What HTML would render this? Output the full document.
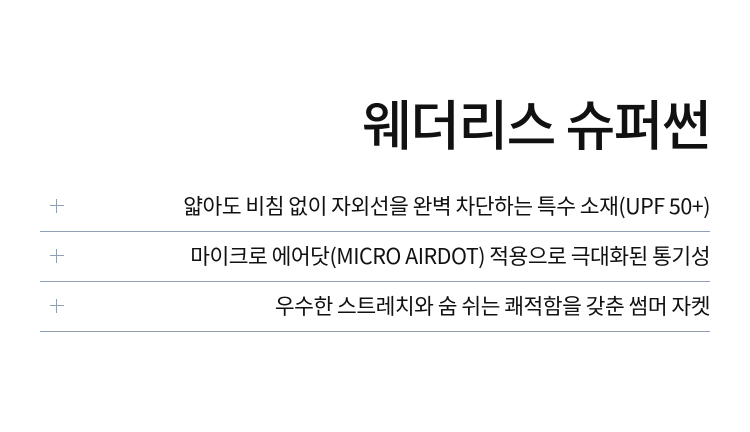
<!DOCTYPE html>
<html><head><meta charset="utf-8"><style>
html,body{margin:0;padding:0;background:#fff;width:750px;height:432px;overflow:hidden;font-family:"Noto Sans CJK KR",sans-serif;color:#111}
.title{position:absolute;right:40px;top:84px;font-size:54px;font-weight:500;letter-spacing:-1.5px;line-height:76px;white-space:nowrap}
.row{position:absolute;left:40px;width:670px;height:50px;border-bottom:1px solid #8fa0b3}
.row .t{position:absolute;right:0;top:0;line-height:50px;font-size:21.5px;white-space:nowrap;letter-spacing:-0.5px}
.row .p{position:absolute;left:10px;top:18px;width:14px;height:14px}
.p:before{content:"";position:absolute;left:6px;top:0;width:1px;height:14px;background:#8fa0b3}
.p:after{content:"";position:absolute;left:0;top:6px;width:14px;height:1px;background:#8fa0b3}
</style></head><body>
<div class="title">웨더리스 슈퍼썬</div>
<div class="row" style="top:181px"><div class="p"></div><div class="t">얇아도 비침 없이 자외선을 완벽 차단하는 특수 소재(UPF 50+)</div></div>
<div class="row" style="top:231px"><div class="p"></div><div class="t">마이크로 에어닷(MICRO AIRDOT) 적용으로 극대화된 통기성</div></div>
<div class="row" style="top:281px"><div class="p"></div><div class="t">우수한 스트레치와 숨 쉬는 쾌적함을 갖춘 썸머 자켓</div></div>
</body></html>
